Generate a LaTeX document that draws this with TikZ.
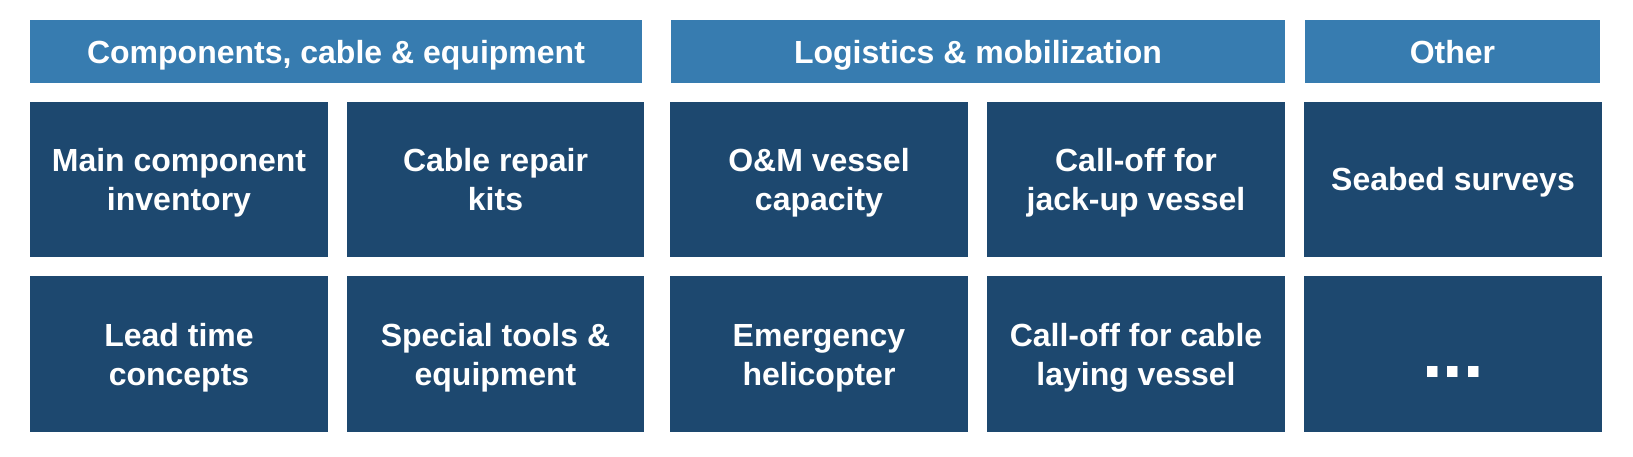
\documentclass[tikz,border=0pt]{standalone}
\usepackage{fontspec}
\setmainfont{Liberation Sans}
\definecolor{hdrblue}{HTML}{377CB0}
\definecolor{boxblue}{HTML}{1D486F}
\begin{document}
\begin{tikzpicture}[x=1pt,y=-1pt,
  hdr/.style={fill=hdrblue,draw=none},
  cell/.style={fill=boxblue,draw=none},
  lbl/.style={text=white,align=center,font=\fontsize{32}{39}\selectfont\bfseries,inner sep=0pt,anchor=base}]
\useasboundingbox[fill=white] (0,0) rectangle (1633,457);
% headers
\fill[hdr] (30,20) rectangle (642,83);
\fill[hdr] (671,20) rectangle (1285,83);
\fill[hdr] (1305,20) rectangle (1600,83);
\node[lbl] (h1) at (336,64) {Components, cable \& equipment};
\node[lbl] (h2) at (978,64) {Logistics \& mobilization};
\node[lbl] (h3) at (1452.5,64) {Other};
% boxes
\foreach \xa/\xb in {30/328,347/644,670/968,987/1285,1304/1602}{
  \fill[cell] (\xa,102) rectangle (\xb,257);
  \fill[cell] (\xa,276) rectangle (\xb,432);
}
\node[lbl] (b11) at (179,211) {Main component\\inventory};
\node[lbl] (b12) at (495.5,211) {Cable repair\\kits};
\node[lbl] (b13) at (819,211) {O\&M vessel\\capacity};
\node[lbl] (b14) at (1136,211) {Call-off for\\jack-up vessel};
\node[lbl] (b15) at (1453,191) {Seabed surveys};
\node[lbl] (b21) at (179,385.5) {Lead time\\concepts};
\node[lbl] (b22) at (495.5,385.5) {Special tools \&\\equipment};
\node[lbl] (b23) at (819,385.5) {Emergency\\helicopter};
\node[lbl] (b24) at (1136,385.5) {Call-off for cable\\laying vessel};
\node[text=white,font=\fontsize{74}{80}\selectfont\bfseries,inner sep=0pt,anchor=base] (b25) at (1453,377) {...};
\end{tikzpicture}
\end{document}
